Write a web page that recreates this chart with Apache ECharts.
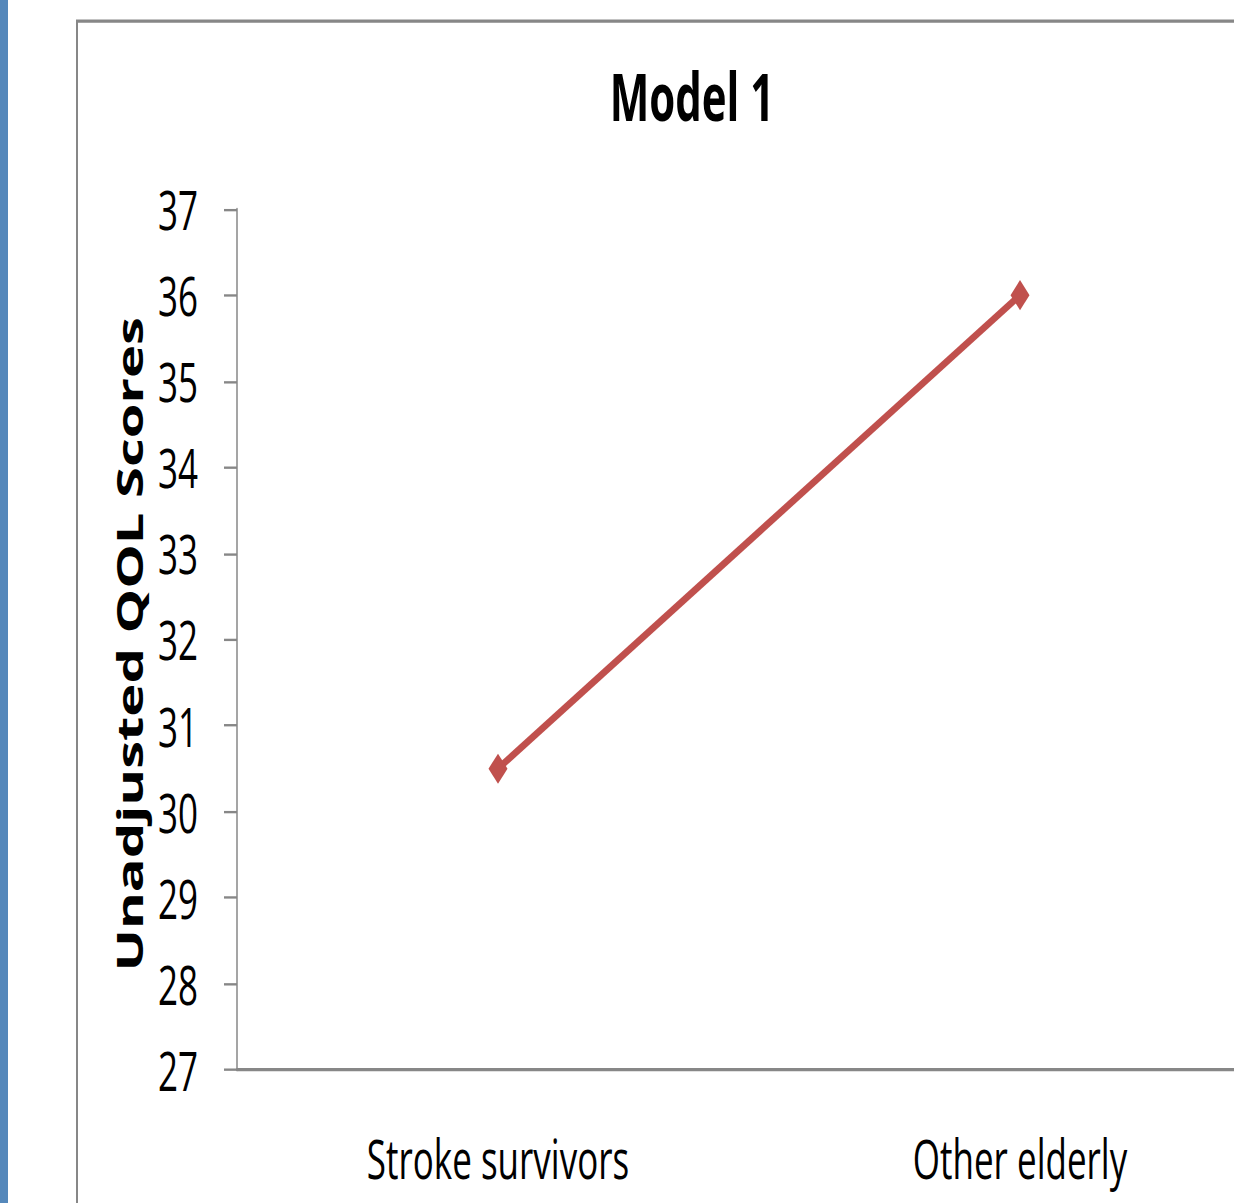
<!DOCTYPE html>
<html>
<head>
<meta charset="utf-8">
<title>Model 1</title>
<script src="https://cdn.jsdelivr.net/npm/echarts@6/dist/echarts.min.js"></script>
<style>
  html, body { margin: 0; padding: 0; background: #fff; overflow: hidden; }
  #frame { position: relative; width: 1234px; height: 1203px; overflow: hidden; }
  /* The chart is drawn on a shorter canvas and stretched vertically,
     giving the tall, narrow lettering and elongated markers. */
  #chart {
    position: absolute; left: 0; top: 0;
    width: 1300px; height: 762px;
    transform: scaleY(1.58); transform-origin: 0 0;
  }
</style>
</head>
<body>
<div id="frame"><div id="chart"></div></div>
<script>
// Chart data
const categories = ['Stroke survivors', 'Other elderly'];
const qolScores = [30.5, 36.0];
const yMin = 27;
const yMax = 37;
const yStep = 1;

const chart = echarts.init(document.getElementById('chart'), null, { renderer: 'svg' });

const labelFont = "'Open Sans', 'Noto Sans', sans-serif";
const axisGray = '#878787';

chart.setOption({
  animation: false,
  backgroundColor: '#ffffff',
  title: {
    text: 'Model 1',
    left: 687,
    top: 34.5,
    textAlign: 'center',
    textStyle: { fontFamily: labelFont, fontWeight: 'bold', fontSize: 42, color: '#000' }
  },
  graphic: [
    {
      type: 'rect', z: -10, silent: true,
      shape: { x: 0, y: 0, width: 8, height: 800 },
      style: { fill: '#5588bb' }
    },
    {
      type: 'rect', z: -5, silent: true,
      shape: { x: 77, y: 13.4, width: 2000, height: 2000 },
      style: { fill: 'none', stroke: axisGray, lineWidth: 2 }
    }
  ],
  grid: { left: 237, top: 132.3, width: 1044, height: 544.9, containLabel: false },
  xAxis: {
    type: 'category',
    data: categories,
    boundaryGap: true,
    axisLine: { lineStyle: { color: axisGray, width: 2 } },
    axisTick: { show: false },
    axisLabel: { fontFamily: labelFont, fontSize: 35, color: '#000', margin: 38.5 },
    splitLine: { show: false }
  },
  yAxis: {
    type: 'value',
    min: yMin, max: yMax, interval: yStep,
    name: 'Unadjusted QOL Scores',
    nameLocation: 'middle',
    nameGap: 84,
    nameTextStyle: { fontFamily: labelFont, fontWeight: 'bold', fontSize: 35.5, color: '#000', padding: [0, 0, 0, -6] },
    axisLine: { show: true, lineStyle: { color: axisGray, width: 1.5 } },
    axisTick: { show: true, inside: false, length: 13, lineStyle: { color: axisGray, width: 1.5 } },
    axisLabel: { fontFamily: labelFont, fontSize: 35, color: '#000', margin: 39 },
    splitLine: { show: false }
  },
  series: [{
    type: 'line',
    data: qolScores,
    symbol: 'diamond',
    symbolSize: [19, 19],
    lineStyle: { color: '#C0504D', width: 5 },
    itemStyle: { color: '#C0504D' },
    label: { show: false }
  }]
});
</script>
</body>
</html>
